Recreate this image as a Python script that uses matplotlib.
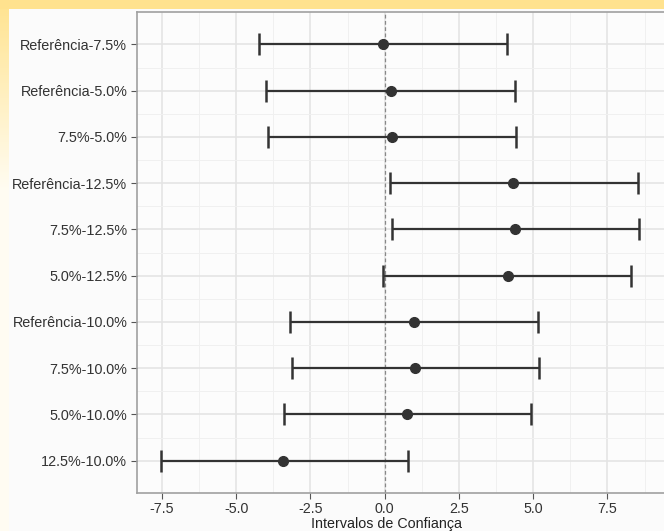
import numpy as np
import matplotlib
matplotlib.use("Agg")
import matplotlib.pyplot as plt

# comparisons (top to bottom) with point estimate and confidence limits
labels = ["Referência-7.5%", "Referência-5.0%", "7.5%-5.0%", "Referência-12.5%",
          "7.5%-12.5%", "5.0%-12.5%", "Referência-10.0%", "7.5%-10.0%",
          "5.0%-10.0%", "12.5%-10.0%"]
estimate = [-0.06, 0.22, 0.25, 4.33, 4.38, 4.15, 0.99, 1.02, 0.74, -3.41]
lower = [-4.22, -3.99, -3.92, 0.17, 0.25, -0.04, -3.19, -3.12, -3.39, -7.54]
upper = [4.12, 4.39, 4.42, 8.53, 8.57, 8.28, 5.17, 5.21, 4.93, 0.79]
xticks = [-7.5, -5.0, -2.5, 0.0, 2.5, 5.0, 7.5]

W, H = 664, 531
fig = plt.figure(figsize=(W / 100, H / 100), dpi=100)

# slide background: yellow strip on top and fading strip on the left
bg = np.ones((H, W, 3))
yellow = np.array([1.0, 0.89, 0.56])
bg[:9, :, :] = yellow
fade = np.clip(1 - np.arange(H) / 190.0, 0, 1)[:, None]
left = fade * yellow + (1 - fade) * np.array([1.0, 0.99, 0.95])
bg[9:, :9, :] = left[9:, None, :]
bg[9:, 9:, :] = 0.985
bax = fig.add_axes([0, 0, 1, 1])
bax.imshow(bg, aspect="auto", interpolation="bilinear")
bax.axis("off")

ax = fig.add_axes([137 / W, 1 - 493 / H, 1 - 137 / W + 0.01, (493 - 12) / H])
ax.set_facecolor("#fcfcfc")

y = np.arange(1, len(labels) + 1)
xerr = [np.array(estimate) - np.array(lower), np.array(upper) - np.array(estimate)]
ax.errorbar(estimate, y, xerr=xerr, fmt="o", color="#333333", ms=7,
            elinewidth=1.6, capsize=8, capthick=1.8, zorder=3)
ax.axvline(0, color="#888888", ls=(0, (3, 2)), lw=0.9, zorder=2)

ax.set_yticks(y)
ax.set_yticklabels(labels)
ax.set_xticks(xticks)
ax.set_xticklabels([f"{v:.1f}" for v in xticks])
ax.set_xticks(np.arange(-6.25, 9.5, 2.5), minor=True)
ax.set_yticks(np.arange(1.5, 10, 1), minor=True)
ax.set_xlim(-8.34, 9.63)
ax.set_ylim(10.7, 0.3)
ax.grid(which="major", color="#e3e3e3", lw=1.1)
ax.grid(which="minor", color="#f0f0f0", lw=0.7)
ax.set_axisbelow(True)

for s in ax.spines.values():
    s.set_color("#a0a0a0")
    s.set_linewidth(1.2)
ax.tick_params(which="major", length=4, color="#555555", labelcolor="#333333",
               labelsize=10.4, pad=3)
ax.tick_params(axis="x", labelsize=10.3, pad=2.5)
ax.tick_params(which="minor", length=0)
for t in ax.get_xticklabels() + ax.get_yticklabels():
    t.set_family("Liberation Sans")
ax.set_xlabel("Intervalos de Confiança", family="Liberation Sans", fontsize=10.3,
              color="#222222")
# centre the title a little left of the panel middle, as in the original
ax.xaxis.set_label_coords((386.5 - 137) / 533.6, (493 - 524) / 481)
ax.xaxis.label.set_verticalalignment("center")

fig.savefig("out.png", dpi=100)
